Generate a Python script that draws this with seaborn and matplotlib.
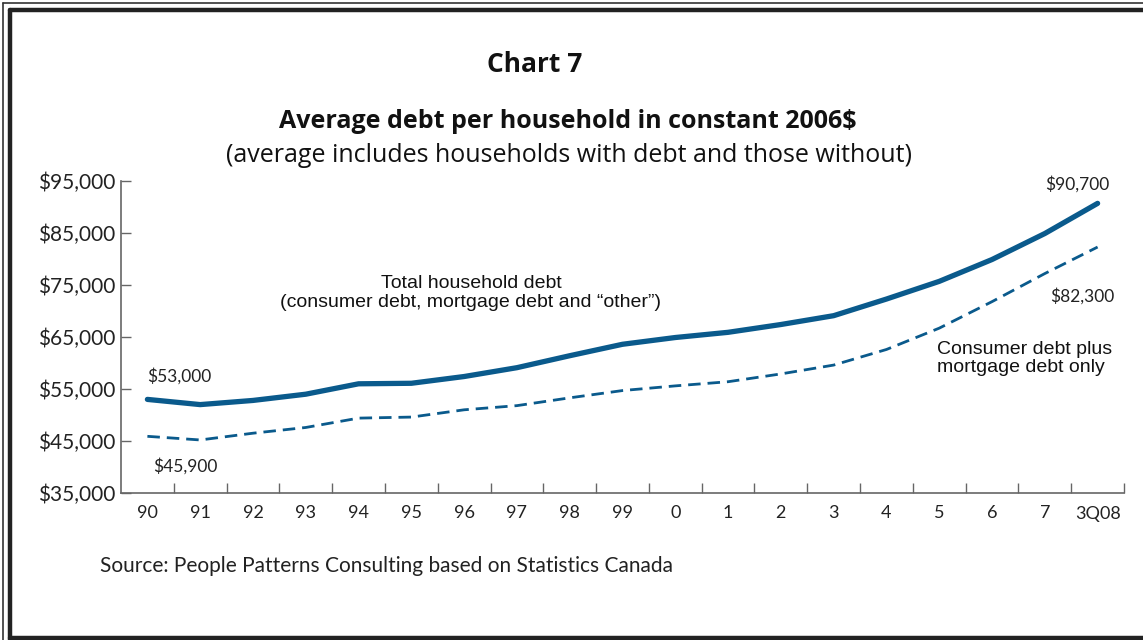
import matplotlib
matplotlib.use("Agg")
import matplotlib.pyplot as plt
import seaborn as sns
import pandas as pd
import numpy as np
from matplotlib.lines import Line2D
from matplotlib.ticker import FixedLocator

# ---- data ----
categories = ['90', '91', '92', '93', '94', '95', '96', '97', '98', '99',
              '0', '1', '2', '3', '4', '5', '6', '7', '3Q08']
total_debt = [53000, 52000, 52800, 54000, 56000, 56100, 57400, 59100, 61400, 63600,
              64900, 65900, 67400, 69100, 72300, 75700, 79900, 84900, 90700]
consumer_mortgage = [45900, 45200, 46500, 47600, 49400, 49600, 51000, 51800, 53300, 54700,
                     55600, 56400, 57900, 59600, 62600, 66700, 71800, 77200, 82300]
y_ticks = [35000, 45000, 55000, 65000, 75000, 85000, 95000]
y_tick_labels = ['\\$35,000', '\\$45,000', '\\$55,000', '\\$65,000', '\\$75,000', '\\$85,000', '\\$95,000']

sns.set_theme(style="white")
plt.rcParams['font.family'] = ['Lato', 'DejaVu Sans']

color = '#0a5a8c'
df = pd.DataFrame({'idx': np.arange(len(categories)),
                   'total': total_debt,
                   'cm': consumer_mortgage})

fig = plt.figure(figsize=(11.43, 6.4), dpi=100)
ax = fig.add_axes([121/1143, (640-493)/640, (1124-121)/1143, (493-181)/640])

sns.lineplot(data=df, x='idx', y='total', ax=ax, color=color, linewidth=3.8,
             solid_capstyle='round', solid_joinstyle='round')
sns.lineplot(data=df, x='idx', y='cm', ax=ax, color=color, linewidth=2.0,
             linestyle=(0, (4.5, 2.5)))

ax.set_xlim(-0.5, len(categories) - 0.5)
ax.set_ylim(35000, 95000)
ax.set_xlabel('')
ax.set_ylabel('')

ax.set_xticks(np.arange(len(categories)))
ax.set_xticklabels(categories, fontsize=13, color='#222222')
ax.xaxis.set_minor_locator(FixedLocator(np.arange(0.5, len(categories), 1.0)))
ax.tick_params(axis='x', which='major', length=0, pad=9)
ax.tick_params(axis='x', which='minor', direction='in', length=7, width=1, color='#666666', bottom=True)

ax.set_yticks(y_ticks)
ax.set_yticklabels(y_tick_labels, fontsize=15, color='#222222')
ax.tick_params(axis='y', which='major', direction='in', length=7, width=1, color='#666666', left=True, pad=4)

for s in ['top', 'right']:
    ax.spines[s].set_visible(False)
for s in ['left', 'bottom']:
    ax.spines[s].set_color('#666666')
    ax.spines[s].set_linewidth(1.2)

# annotations
ann_font = ['Liberation Sans', 'DejaVu Sans']
ax.text(6.13, 75200, 'Total household debt', family=ann_font, fontsize=14,
        ha='center', va='center', color='#111111')
ax.text(6.13, 71600, '(consumer debt, mortgage debt and \u201cother\u201d)', family=ann_font,
        fontsize=14, ha='center', va='center', color='#111111')
ax.text(14.95, 60900, 'Consumer debt plus\nmortgage debt only', family=ann_font, fontsize=14,
        ha='left', va='center', color='#111111', linespacing=1.1)

ax.text(0.0, 57500, '\\$53,000', fontsize=12.5, ha='left', va='center', color='#222222')
ax.text(0.1, 40200, '\\$45,900', fontsize=12.5, ha='left', va='center', color='#222222')
ax.text(18.23, 94400, '\\$90,700', fontsize=12.5, ha='right', va='center', color='#222222')
ax.text(18.32, 72900, '\\$82,300', fontsize=12.5, ha='right', va='center', color='#222222')

# titles
fig.text(535/1143, 1 - 65/640, 'Chart 7', fontsize=19, fontweight='bold',
         ha='center', va='center', color='#111111', family=['Open Sans', 'DejaVu Sans'])
fig.text(568/1143, 1 - 121/640, 'Average debt per household in constant 2006\\$', fontsize=18,
         fontweight='bold', ha='center', va='center', color='#111111', family=['Open Sans', 'DejaVu Sans'])
fig.text(569/1143, 1 - 156/640, '(average includes households with debt and those without)', fontsize=18,
         ha='center', va='center', color='#111111', family=['Open Sans', 'DejaVu Sans'])

fig.text(100/1143, 1 - 566/640, 'Source: People Patterns Consulting based on Statistics Canada', fontsize=15,
         ha='left', va='center', color='#222222')

# frame border
W, H = 1143, 640
fig.add_artist(Line2D([3/W, 3/W], [0, 1 - 3/H], transform=fig.transFigure,
                      color='#333333', linewidth=1.2))
fig.add_artist(Line2D([3/W, 1], [1 - 3/H, 1 - 3/H], transform=fig.transFigure,
                      color='#333333', linewidth=1.2))
fig.add_artist(Line2D([10/W, 10/W], [0, 1 - 10/H], transform=fig.transFigure,
                      color='#222222', linewidth=3.2))
fig.add_artist(Line2D([10/W, 1], [1 - 10/H, 1 - 10/H], transform=fig.transFigure,
                      color='#222222', linewidth=3.2))
fig.add_artist(Line2D([10/W, 1], [1 - 638/H, 1 - 638/H], transform=fig.transFigure,
                      color='#222222', linewidth=3.2))

fig.savefig('out.png', dpi=100)
